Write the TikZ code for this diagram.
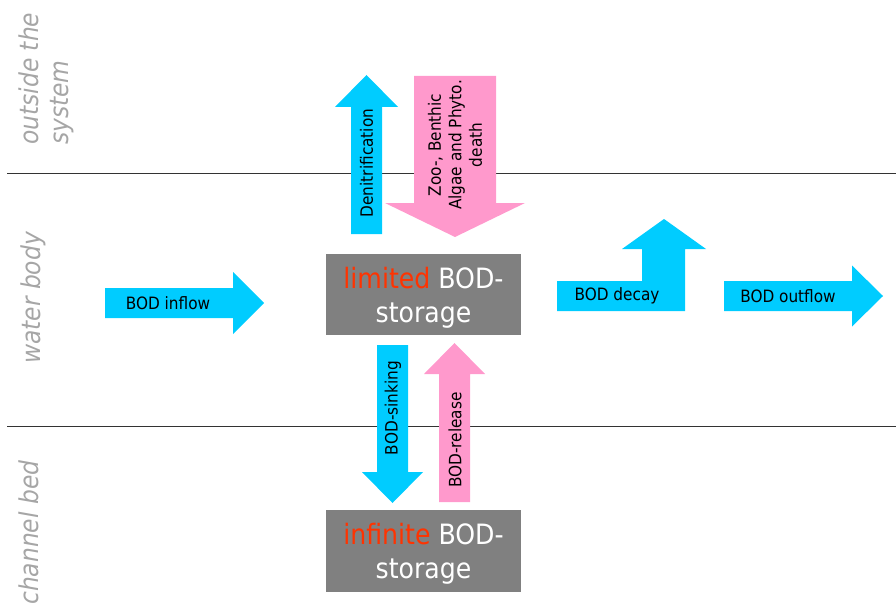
\documentclass[tikz,border=0pt]{standalone}
\usepackage{fontspec}
\setmainfont{DejaVu Sans}[FakeStretch=0.9]
\definecolor{flowblue}{HTML}{00CCFF}
\definecolor{flowpink}{HTML}{FF99CC}
\definecolor{boxgray}{HTML}{808080}
\definecolor{hotred}{HTML}{FF3300}
\definecolor{sidegray}{HTML}{A6A6A6}
\definecolor{linegray}{HTML}{333333}
\tikzset{
  bluearrow/.style={fill=flowblue},
  pinkarrow/.style={fill=flowpink},
  storebox/.style={fill=boxgray, draw=none, inner sep=0pt},
  flowtext/.style={inner sep=0pt, font=\fontsize{17}{20.5}\selectfont, text=black},
  boxtext/.style={inner sep=0pt, anchor=base, font=\fontsize{28}{34}\selectfont, text=white},
  sidetext/.style={inner sep=0pt, rotate=90, font=\fontsize{26}{30}\selectfont\itshape, text=sidegray},
  zoneline/.style={draw=linegray, line width=0.9pt}
}
\begin{document}
\begin{tikzpicture}[x=1pt,y=-1pt]
\useasboundingbox (0,0) rectangle (896,604);

% zone separators
\coordinate (l1a) at (7,173.5);
\coordinate (l1b) at (896,173.5);
\coordinate (l2a) at (7,426);
\coordinate (l2b) at (896,426);
\draw[zoneline] (l1a) -- (l1b);
\draw[zoneline] (l2a) -- (l2b);

% side labels
\node[sidetext, anchor=base west] (out1) at (38,145) {outside the};
\node[sidetext, anchor=base west] (out2) at (68,145) {system};
\node[sidetext, anchor=base] (water) at (40,298) {water body};
\node[sidetext, anchor=base west] (bed) at (38,605) {channel bed};

% storage boxes
\node[storebox, minimum width=195pt, minimum height=81pt] (lim) at (423.5,294.5) {};
\node[boxtext] (limA) at (423.5,288.5) {\textcolor{hotred}{limited} BOD-};
\node[boxtext] (limB) at (423.5,322.5) {storage};
\node[storebox, minimum width=195pt, minimum height=82pt] (inf) at (423.5,551) {};
\node[boxtext] (infA) at (423.5,544) {\textcolor{hotred}{infinite} BOD-};
\node[boxtext] (infB) at (423.5,578) {storage};

% BOD inflow
\fill[bluearrow] (105,288) -- (233,288) -- (233,272) -- (264,303) -- (233,334) -- (233,318) -- (105,318) -- cycle;
\node[flowtext] (inflow) at (168,303) {BOD inflow};

% BOD outflow
\fill[bluearrow] (724,281) -- (852,281) -- (852,265.5) -- (883,296) -- (852,326.5) -- (852,311) -- (724,311) -- cycle;
\node[flowtext] (outflow) at (788,296) {BOD outflow};

% BOD decay
\fill[bluearrow] (557,281) -- (642,281) -- (642,249) -- (622,249) -- (664,219) -- (706,249) -- (685,249) -- (685,311) -- (557,311) -- cycle;
\node[flowtext] (decay) at (617,296) {BOD decay};

% Denitrification
\fill[bluearrow] (351,234) -- (351,107) -- (335,107) -- (366.5,75) -- (398,107) -- (382,107) -- (382,234) -- cycle;
\node[flowtext, rotate=90] (denit) at (366.5,163) {Denitrification};

% death input
\fill[pinkarrow] (414,76) -- (496,76) -- (496,203) -- (525,203) -- (455,237) -- (385,203) -- (414,203) -- cycle;
\node[flowtext, rotate=90, align=center] (death) at (455,145) {Zoo-, Benthic\\Algae and Phyto.\\death};

% BOD sinking
\fill[bluearrow] (377,345) -- (408,345) -- (408,472) -- (423,472) -- (392.5,503) -- (362,472) -- (377,472) -- cycle;
\node[flowtext, rotate=90] (sink) at (393,408) {BOD-sinking};

% BOD release
\fill[pinkarrow] (439,502) -- (439,374) -- (424,374) -- (454.5,343) -- (485,374) -- (470,374) -- (470,502) -- cycle;
\node[flowtext, rotate=90] (release) at (455,440) {BOD-release};
\end{tikzpicture}
\end{document}
